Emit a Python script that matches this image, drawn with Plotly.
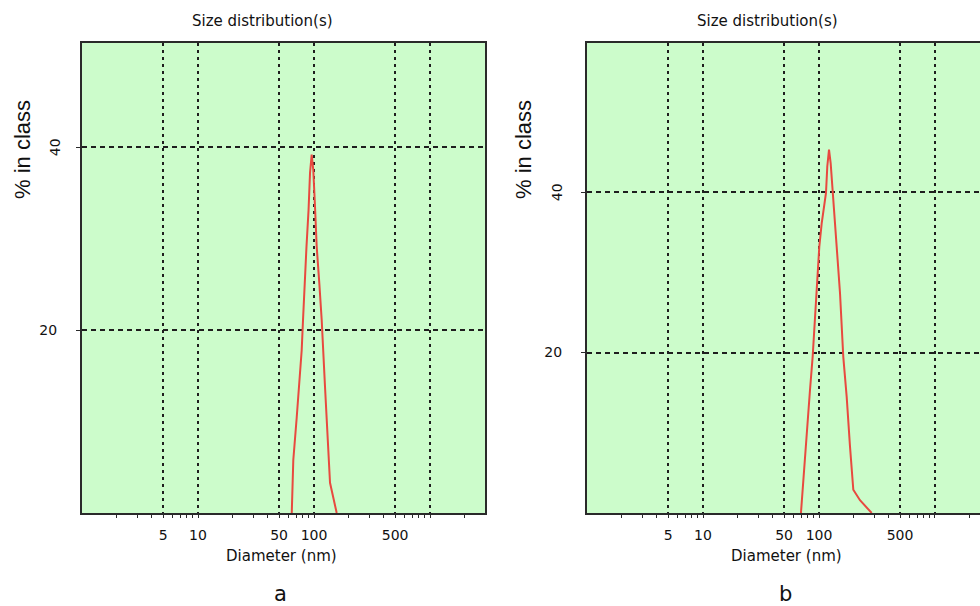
import plotly.graph_objects as go

# ---------------- data ----------------
diam_a = [64.3, 66.3, 71.0, 74.7, 78.3, 80.4, 82.8, 86.1, 89.7, 92.4, 95.5,
          98.6, 102.0, 105.5, 111.0, 116.5, 124.4, 132.8, 137.4, 156.9]
pct_a = [0.0, 5.8, 10.5, 13.8, 17.8, 21.1, 25.2, 29.1, 33.1, 37.2, 39.2,
         37.5, 33.5, 29.1, 25.2, 21.1, 13.8, 6.9, 3.3, 0.0]

diam_b = [69.9, 73.2, 78.3, 83.6, 88.2, 92.4, 97.4, 100.6, 105.5, 110.4, 114.9, 117.9,
          122.0, 126.1, 131.2, 142.1, 151.8, 161.9, 173.2, 185.0, 197.6, 225.6, 284.6]
pct_b = [0.0, 4.1, 10.3, 15.3, 19.5, 24.5, 29.1, 33.2, 36.1, 38.2, 39.9, 43.2,
         45.3, 43.6, 39.9, 33.6, 27.4, 19.5, 14.5, 8.3, 2.9, 1.6, 0.0]

x_tickvals = [5, 10, 50, 100, 500, 1000]
x_ticktext = ["5", "10", "50", "100", "500", ""]
y_tickvals = [20, 40]
y_ticktext = ["20", ""]
minor_vals = [m * 10 ** e for e in range(0, 4) for m in range(2, 10)]

title_text = "Size distribution(s)"
xlabel = "Diameter (nm)"
ylabel = "% in class"
panel_labels = ["a", "b"]

# ---------------- styles ----------------
BG = "#ccfccb"
LINE = "#e8493f"
GRID = "#1e1e1e"
AX = "#2a2a2a"
FONT = "DejaVu Sans"
TXT = "#111"

fig = go.Figure()
fig.add_trace(go.Scatter(x=diam_a, y=pct_a, mode="lines", xaxis="x", yaxis="y",
                         line=dict(color=LINE, width=2), showlegend=False))
fig.add_trace(go.Scatter(x=diam_b, y=pct_b, mode="lines", xaxis="x2", yaxis="y2",
                         line=dict(color=LINE, width=2), showlegend=False))

W, H = 980, 606
ax_a = (82, 485)
ax_b = (587, 980)
top, bot = 43, 513
ydom = [1 - bot / H, 1 - top / H]


def xaxis(dom, rng):
    return dict(
        type="log", domain=[dom[0] / W, dom[1] / W], range=rng,
        tickvals=x_tickvals, ticktext=x_ticktext,
        ticks="outside", ticklen=3, tickwidth=1, tickcolor=AX,
        ticklabelstandoff=5,
        tickfont=dict(family=FONT, size=14, color=TXT),
        showgrid=True, gridcolor=GRID, gridwidth=2, griddash="3px,4px",
        showline=True, linecolor=AX, linewidth=2, mirror=True,
        minor=dict(tickvals=minor_vals, ticks="outside", ticklen=3,
                   tickcolor=AX, tickwidth=1, showgrid=False),
        zeroline=False, fixedrange=True, automargin=False,
    )


def yaxis(anchor, rng, mirror):
    return dict(
        anchor=anchor, domain=ydom, range=rng,
        tickvals=y_tickvals, ticktext=y_ticktext,
        ticks="outside", ticklen=4, tickwidth=1, tickcolor=AX,
        ticklabelstandoff=16,
        tickfont=dict(family=FONT, size=14, color=TXT),
        showgrid=True, gridcolor=GRID, gridwidth=2, griddash="5px,4px",
        showline=True, linecolor=AX, linewidth=2, mirror=mirror,
        zeroline=False, fixedrange=True, automargin=False,
    )


fig.update_layout(
    width=W, height=H,
    margin=dict(l=0, r=0, t=0, b=0, autoexpand=False),
    paper_bgcolor="white", plot_bgcolor=BG,
    xaxis=dict(xaxis(ax_a, [0, 3.474]), anchor="y"),
    yaxis=yaxis("x", [0, 51.4], True),
    xaxis2=dict(xaxis(ax_b, [0, 3.388]), anchor="y2"),
    yaxis2=yaxis("x2", [0, 58.6], False),
)

annos = []
for i, (dom, ycolx, yrot) in enumerate([(ax_a, 22, 55), (ax_b, 523, 557)]):
    common = dict(showarrow=False, xanchor="center", yanchor="middle")
    annos.append(dict(text=title_text, xref="paper", yref="paper",
                      x=(dom[0] + 180) / W, y=1 - 21 / H, **common,
                      font=dict(family=FONT, size=15, color=TXT)))
    annos.append(dict(text=xlabel, xref="paper", yref="paper",
                      x=(dom[0] + 199) / W, y=1 - 556 / H, **common,
                      font=dict(family=FONT, size=15, color=TXT)))
    annos.append(dict(text=panel_labels[i], xref="paper", yref="paper",
                      x=(dom[0] + 198) / W, y=1 - 594 / H, **common,
                      font=dict(family=FONT, size=21, color=TXT)))
    annos.append(dict(text=ylabel, xref="paper", yref="paper",
                      x=ycolx / W, y=1 - 150 / H, textangle=-90, **common,
                      font=dict(family="Liberation Sans", size=22, color=TXT)))
    annos.append(dict(text="40", xref="paper", yref="y" if i == 0 else "y2",
                      x=yrot / W, y=40, textangle=-90, **common,
                      font=dict(family=FONT, size=14, color=TXT)))
fig.update_layout(annotations=annos)

fig.write_html("out.html", config={"displayModeBar": False},
               post_script="document.body.style.margin='0';document.body.style.overflow='hidden';")
